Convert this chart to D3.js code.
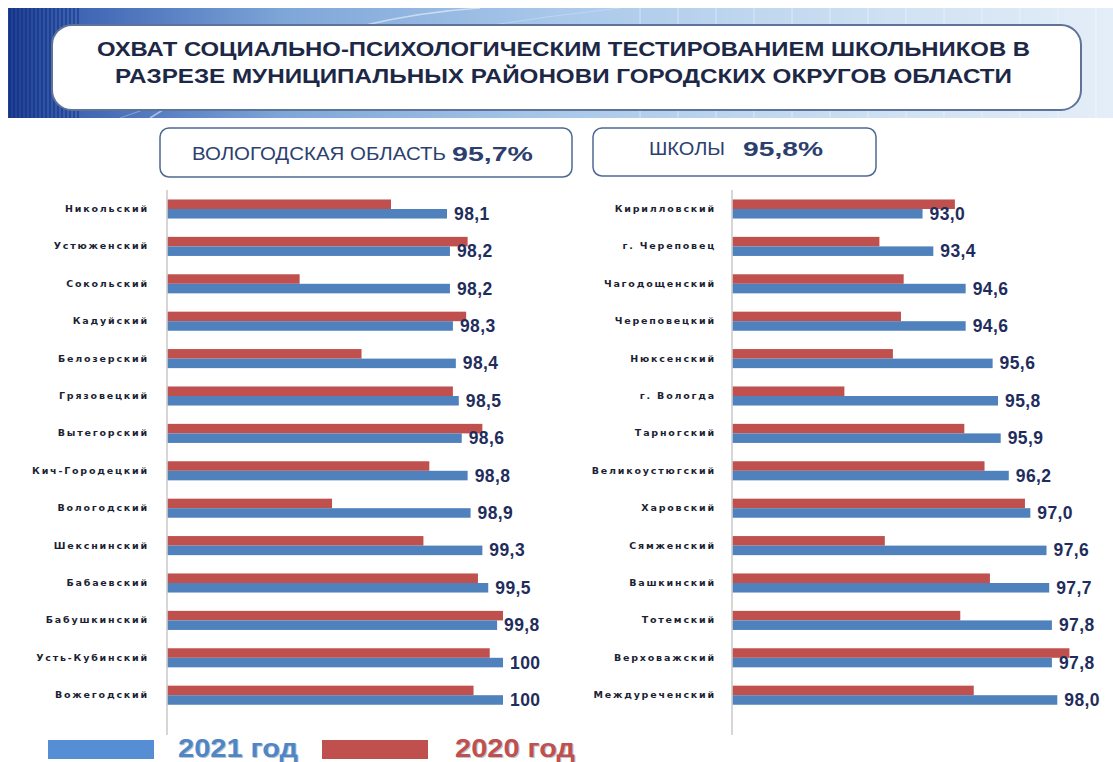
<!DOCTYPE html>
<html><head><meta charset="utf-8">
<script src="https://cdn.jsdelivr.net/npm/d3@7/dist/d3.min.js"></script>
<style>html,body{margin:0;padding:0;background:#fff;overflow:hidden}svg{display:block}</style>
</head><body><svg id="c" width="1113" height="762"></svg>
<script>
// ---------- DATA ----------
const titleLines = ["ОХВАТ СОЦИАЛЬНО-ПСИХОЛОГИЧЕСКИМ ТЕСТИРОВАНИЕМ ШКОЛЬНИКОВ В",
                    "РАЗРЕЗЕ МУНИЦИПАЛЬНЫХ РАЙОНОВИ ГОРОДСКИХ ОКРУГОВ  ОБЛАСТИ"];
const leftBoxLabel = "ВОЛОГОДСКАЯ ОБЛАСТЬ";
const leftBoxValue = "95,7%";
const rightBoxLabel = "ШКОЛЫ";
const rightBoxValue = "95,8%";
const seriesNames = ["2021 год", "2020 год"];

const leftCategories = ["Никольский","Устюженский","Сокольский","Кадуйский","Белозерский","Грязовецкий","Вытегорский","Кич-Городецкий","Вологодский","Шекснинский","Бабаевский","Бабушкинский","Усть-Кубинский","Вожегодский"];
const left2021 = [98.1,98.2,98.2,98.3,98.4,98.5,98.6,98.8,98.9,99.3,99.5,99.8,100,100];
const left2020 = [96.2,98.8,93.1,98.75,95.2,98.3,99.3,97.5,94.2,97.3,99.15,100.0,99.55,99.0];
const leftLabels = ["98,1","98,2","98,2","98,3","98,4","98,5","98,6","98,8","98,9","99,3","99,5","99,8","100","100"];

const rightCategories = ["Кирилловский","г. Череповец","Чагодощенский","Череповецкий","Нюксенский","г. Вологда","Тарногский","Великоустюгский","Харовский","Сямженский","Вашкинский","Тотемский","Верховажский","Междуреченский"];
const right2021 = [93.0,93.4,94.6,94.6,95.6,95.8,95.9,96.2,97.0,97.6,97.7,97.8,97.8,98.0];
const right2020 = [94.2,91.4,92.3,92.2,91.9,90.1,94.55,95.3,96.8,91.6,95.5,94.4,98.45,94.9];
const rightLabels = ["93,0","93,4","94,6","94,6","95,6","95,8","95,9","96,2","97,0","97,6","97,7","97,8","97,8","98,0"];

// ---------- STYLE ----------
const BLUE = "#4f81bd", RED = "#c0504d";
const svg = d3.select("#c");
const defs = svg.append("defs");

// header band
const g1 = defs.append("linearGradient").attr("id","hdr").attr("x1",0).attr("x2",1).attr("y1",0).attr("y2",0);
[[0,"#1d3f95"],[0.06,"#3d63b3"],[0.25,"#7ea6d8"],[0.5,"#a9c8ea"],[0.8,"#cfe1f3"],[1,"#e4eef8"]].forEach(s=>g1.append("stop").attr("offset",s[0]).attr("stop-color",s[1]));
svg.append("rect").attr("x",8).attr("y",8).attr("width",1105).attr("height",110).attr("fill","url(#hdr)");
const stripeX = d3.range(10, 80, 4);
svg.append("g").selectAll("line").data(stripeX).join("line")
  .attr("x1",d=>d).attr("x2",d=>d).attr("y1",8).attr("y2",118)
  .attr("stroke","#0f2a78").attr("stroke-width",1.5).attr("opacity",0.6);
const gridX = d3.range(640, 1113, 38);
svg.append("g").selectAll("line").data(gridX).join("line")
  .attr("x1",d=>d).attr("x2",d=>d).attr("y1",8).attr("y2",118)
  .attr("stroke","#ffffff").attr("stroke-width",1).attr("opacity",0.45);
svg.append("path").attr("d","M150,118 Q300,20 480,8").attr("fill","none").attr("stroke","#ffffff").attr("opacity",0.5).attr("stroke-width",1.5);
svg.append("path").attr("d","M120,118 Q330,40 620,8").attr("fill","none").attr("stroke","#dbe8ff").attr("opacity",0.4).attr("stroke-width",1);

// title box
svg.append("rect").attr("x",52).attr("y",25).attr("width",1029).attr("height",85).attr("rx",20)
  .attr("fill","#ffffff").attr("stroke","#5d7397").attr("stroke-width",2);
const tW = [933, 897];
svg.append("g").selectAll("text").data(titleLines).join("text")
  .attr("x",563.5).attr("y",(d,i)=>56+i*27).attr("text-anchor","middle")
  .attr("font-family","Liberation Sans, Arial, sans-serif").attr("font-weight","bold").attr("font-size",21)
  .attr("fill","#1d2847").attr("textLength",(d,i)=>tW[i]).attr("lengthAdjust","spacingAndGlyphs")
  .text(d=>d);

// subtitle boxes
svg.append("rect").attr("x",160).attr("y",128).attr("width",412).attr("height",49).attr("rx",9)
  .attr("fill","#fff").attr("stroke","#4d6891").attr("stroke-width",1.5);
svg.append("rect").attr("x",593).attr("y",128).attr("width",283).attr("height",48).attr("rx",9)
  .attr("fill","#fff").attr("stroke","#4d6891").attr("stroke-width",1.5);
svg.append("text").attr("x",192).attr("y",160).attr("font-family","Liberation Sans, Arial, sans-serif")
  .attr("font-size",18).attr("fill","#2d3f6e").attr("textLength",254).attr("lengthAdjust","spacingAndGlyphs").text(leftBoxLabel);
svg.append("text").attr("x",452).attr("y",161).attr("font-family","Liberation Sans, Arial, sans-serif").attr("font-weight","bold")
  .attr("font-size",20).attr("fill","#2d3f6e").attr("textLength",81).attr("lengthAdjust","spacingAndGlyphs").text(leftBoxValue);
svg.append("text").attr("x",649).attr("y",155).attr("font-family","Liberation Sans, Arial, sans-serif")
  .attr("font-size",18).attr("fill","#2d3f6e").attr("textLength",76).attr("lengthAdjust","spacingAndGlyphs").text(rightBoxLabel);
svg.append("text").attr("x",743).attr("y",156).attr("font-family","Liberation Sans, Arial, sans-serif").attr("font-weight","bold")
  .attr("font-size",20).attr("fill","#2d3f6e").attr("textLength",80).attr("lengthAdjust","spacingAndGlyphs").text(rightBoxValue);

// ---------- PANELS ----------
function panel(cats, v21, v20, labels, x0, x1, dom, labelX) {
  const y = d3.scaleBand().domain(cats).range([190.3, 713.9]).paddingInner(0.49).paddingOuter(0.245);
  const sub = d3.scaleBand().domain(["2020","2021"]).range([0, y.bandwidth()]);
  const x = d3.scaleLinear().domain(dom).range([x0, x1]);
  const g = svg.append("g");
  g.append("line").attr("x1",x0).attr("x2",x0).attr("y1",190).attr("y2",735)
    .attr("stroke","#c8c8c8").attr("stroke-width",1.5);
  const rows = cats.map((c,i)=>({c, a:v21[i], b:v20[i], l:labels[i]}));
  g.selectAll(".r20").data(rows).join("rect")
    .attr("x",x0+0.75).attr("y",d=>y(d.c)+sub("2020")).attr("height",sub.bandwidth())
    .attr("width",d=>x(d.b)-x0-0.75).attr("fill",RED);
  g.selectAll(".r21").data(rows).join("rect")
    .attr("x",x0+0.75).attr("y",d=>y(d.c)+sub("2021")).attr("height",sub.bandwidth())
    .attr("width",d=>x(d.a)-x0-0.75).attr("fill",BLUE);
  g.selectAll(".cl").data(rows).join("text")
    .attr("x",labelX).attr("y",d=>y(d.c)+y.bandwidth()/2+3).attr("text-anchor","end")
    .attr("font-family","DejaVu Sans, Verdana, sans-serif").attr("font-weight","bold").attr("font-size",9.5)
    .attr("letter-spacing",1.8).attr("fill","#1c1f33").text(d=>d.c);
  g.selectAll(".vl").data(rows).join("text")
    .attr("x",d=>x(d.a)+7).attr("y",d=>y(d.c)+sub("2021")+sub.bandwidth()/2+6)
    .attr("font-family","Liberation Sans, Arial, sans-serif").attr("font-weight","bold").attr("font-size",17.5)
    .attr("letter-spacing",0.4).attr("fill","#1f2d5c").text(d=>d.l);
}
panel(leftCategories, left2021, left2020, leftLabels, 167, 503, [88.6, 100], 149);
panel(rightCategories, right2021, right2020, rightLabels, 732, 1057.3, [85.93, 98.0], 716);

// ---------- LEGEND ----------
const legend = [{n:seriesNames[0], c:"#558ed5", t:"#4f86c6", x:48, tx:178},
                {n:seriesNames[1], c:RED, t:"#c0504d", x:322, tx:455}];
const lg = svg.append("g");
lg.selectAll("rect").data(legend).join("rect")
  .attr("x",d=>d.x).attr("y",740).attr("width",106).attr("height",19).attr("fill",d=>d.c);
lg.selectAll("text.sh").data(legend).join("text").attr("class","sh")
  .attr("x",d=>d.tx+1).attr("y",758).attr("font-family","Liberation Sans, Arial, sans-serif").attr("font-weight","bold")
  .attr("font-size",25).attr("fill","#7a8aa0").attr("opacity",0.5).attr("textLength",120).attr("lengthAdjust","spacingAndGlyphs").text(d=>d.n);
lg.selectAll("text.lt").data(legend).join("text").attr("class","lt")
  .attr("x",d=>d.tx).attr("y",757).attr("font-family","Liberation Sans, Arial, sans-serif").attr("font-weight","bold")
  .attr("font-size",25).attr("fill",d=>d.t).attr("textLength",120).attr("lengthAdjust","spacingAndGlyphs").text(d=>d.n);
</script></body></html>
